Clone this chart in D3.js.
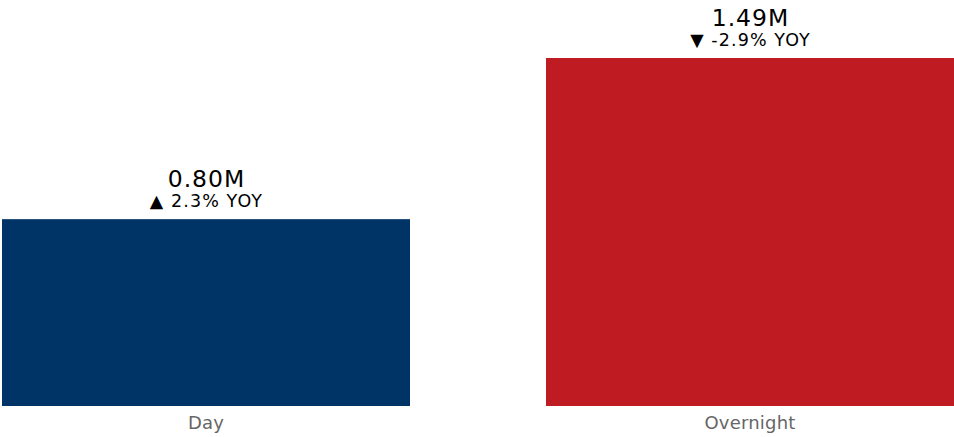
<!DOCTYPE html>
<html>
<head>
<meta charset="utf-8">
<script src="https://cdn.jsdelivr.net/npm/d3@7"></script>
<style>
  html, body { margin: 0; padding: 0; background: #fff; }
  svg { display: block; font-family: "DejaVu Sans", Verdana, sans-serif; }
</style>
</head>
<body>
<svg id="chart" width="954" height="437"></svg>
<script>
// Ridership by time period (millions) with year-over-year change
const categories = ["Day", "Overnight"];
const values = [0.80, 1.49];
const yoyChange = [2.3, -2.9];
const barColors = ["#003366", "#BE1B22"];

const width = 954, height = 437;
const margin = { top: 58, right: 0, bottom: 31, left: 2 };

const svg = d3.select("#chart");

const x = d3.scaleBand()
  .domain(categories)
  .range([margin.left, width - margin.right])
  .paddingInner(0.25)
  .paddingOuter(0);

const y = d3.scaleLinear()
  .domain([0, d3.max(values)])
  .range([height - margin.bottom, margin.top]);

const data = categories.map((c, i) => ({ cat: c, value: values[i], yoy: yoyChange[i], color: barColors[i] }));

svg.append("g")
  .selectAll("rect")
  .data(data)
  .join("rect")
  .attr("x", d => x(d.cat))
  .attr("y", d => y(d.value))
  .attr("width", x.bandwidth())
  .attr("height", d => y(0) - y(d.value))
  .attr("fill", d => d.color);

const labels = svg.append("g").attr("text-anchor", "middle").attr("fill", "#000");

labels.selectAll("text.value")
  .data(data)
  .join("text")
  .attr("class", "value")
  .attr("x", d => x(d.cat) + x.bandwidth() / 2 + 0.5)
  .attr("y", d => y(d.value) - 32)
  .attr("font-size", 23.5)
  .attr("letter-spacing", 1)
  .text(d => d.value.toFixed(2) + "M");

labels.selectAll("text.yoy")
  .data(data)
  .join("text")
  .attr("class", "yoy")
  .attr("x", d => x(d.cat) + x.bandwidth() / 2 + 0.5)
  .attr("y", d => y(d.value) - 12)
  .attr("font-size", 17.5)
  .attr("letter-spacing", 1.1)
  .text(d => (d.yoy >= 0 ? "\u25B2 " : "\u25BC ") + d.yoy.toFixed(1) + "% YOY");

// Category axis, drawn without domain line or ticks
const xAxis = svg.append("g")
  .attr("transform", `translate(0,${height - margin.bottom})`)
  .call(d3.axisBottom(x).tickSize(0));
xAxis.select(".domain").remove();
xAxis.selectAll("text")
  .attr("y", 23)
  .attr("dy", 0)
  .attr("font-family", "\"DejaVu Sans\", Verdana, sans-serif")
  .attr("font-size", 18)
  .attr("letter-spacing", 0.2)
  .attr("fill", "#666");
</script>
</body>
</html>
